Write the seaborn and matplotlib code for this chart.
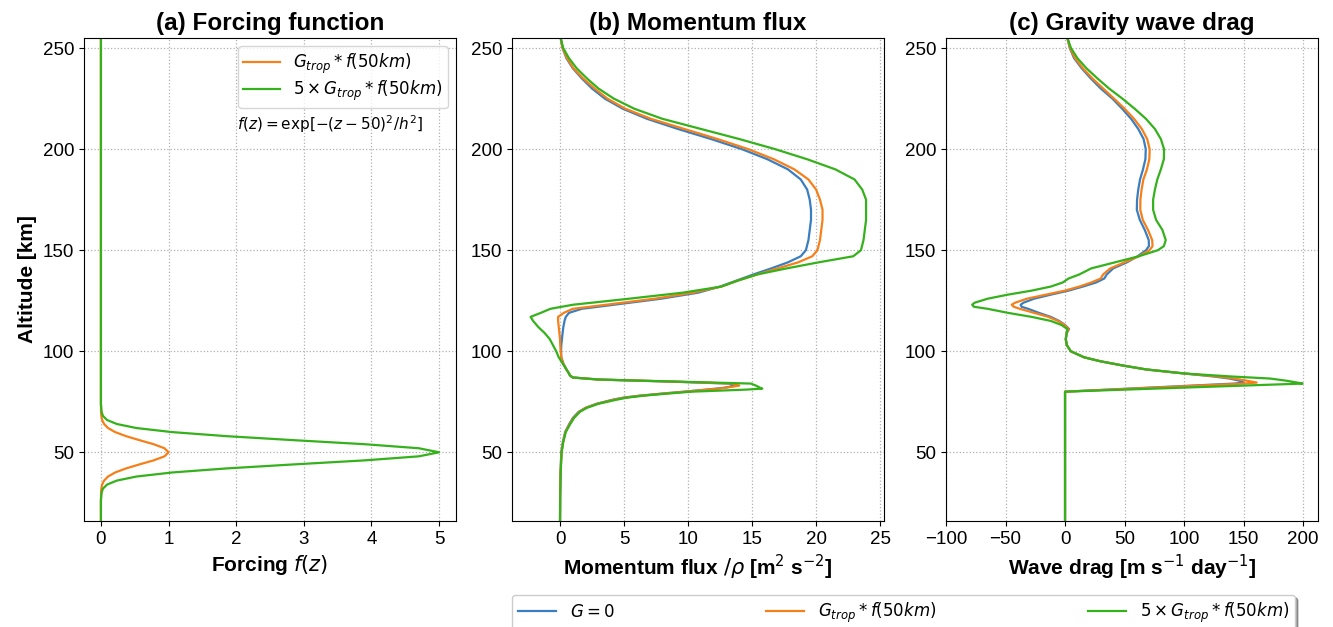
import matplotlib
matplotlib.use('Agg')
import matplotlib.pyplot as plt
import seaborn as sns

plt.rcParams['font.family'] = ['Liberation Sans', 'DejaVu Sans']
plt.rcParams['axes.unicode_minus'] = True

c_g0 = '#3a7ec0'
c_g1 = '#f5801a'
c_g5 = '#35b11c'

labels = [r'$G = 0$', r'$G_{trop} * f(50km)$', r'$5 \times G_{trop} * f(50km)$']

# (a) forcing profile
z_force = [16, 26, 30, 32, 34, 36, 38, 40, 42, 44, 46, 48, 50, 52, 54, 56, 58, 60,
           62, 64, 66, 68, 70, 74, 255]
force_g1 = [0, 0, 0.002, 0.006, 0.018, 0.047, 0.105, 0.21, 0.37, 0.57, 0.78, 0.94, 1.0,
            0.94, 0.78, 0.57, 0.37, 0.21, 0.105, 0.047, 0.018, 0.006, 0.002, 0, 0]
force_g5 = [0, 0, 0.01, 0.03, 0.09, 0.235, 0.525, 1.05, 1.85, 2.85, 3.9, 4.7, 5.0,
            4.7, 3.9, 2.85, 1.85, 1.05, 0.525, 0.235, 0.09, 0.03, 0.01, 0, 0]

# (b) momentum flux
z_flux = [255, 250, 245, 240, 235, 230, 225, 220, 215, 210, 205, 200, 195, 190, 185, 180,
          175, 170, 165, 160, 155, 150, 147, 144, 141, 138, 135, 132, 129, 126, 123, 121,
          119, 117, 115, 112, 109, 106, 103, 100, 97, 94, 91, 89, 88, 87, 86, 85, 84, 83,
          82, 81.5, 81, 80, 79, 78, 77, 76, 74, 72, 70, 67, 64, 60, 55, 50, 40, 30, 16]
flux_g0 = [0.05, 0.2, 0.5, 1.0, 1.7, 2.5, 3.5, 4.9, 6.8, 9.2, 11.8, 14.2, 16.2, 17.8, 18.8, 19.3,
           19.5, 19.6, 19.6, 19.5, 19.4, 19.2, 18.8, 17.8, 16.5, 15.1, 13.8, 12.5, 10.8, 7.9, 4.2, 1.7,
           0.7, 0.45, 0.35, 0.26, 0.2, 0.15, 0.1, 0.08, 0.1, 0.25, 0.5, 0.7, 0.78, 1.0, 3.0, 8.5, 13.2, 13.7,
           12.9, 12.2, 11.4, 9.7, 7.9, 6.2, 4.9, 4.1, 2.85, 2.0, 1.45, 1.0, 0.72, 0.4, 0.22, 0.1, 0.04, 0.01, 0]
flux_g1 = [0.05, 0.2, 0.55, 1.05, 1.8, 2.7, 3.7, 5.1, 7.1, 9.7, 12.3, 14.7, 16.7, 18.3, 19.4, 20.0,
           20.3, 20.5, 20.5, 20.4, 20.3, 20.1, 19.7, 18.6, 17.0, 15.4, 13.9, 12.6, 10.4, 7.4, 3.6, 1.0,
           0.3, -0.15, -0.15, -0.1, -0.05, 0.0, 0.02, 0.05, 0.1, 0.25, 0.5, 0.7, 0.78, 1.0, 3.0, 8.7, 13.5, 14.0,
           13.0, 12.4, 11.5, 9.8, 8.0, 6.3, 5.0, 4.2, 2.9, 2.0, 1.5, 1.05, 0.75, 0.42, 0.24, 0.11, 0.04, 0.01, 0]
flux_g5 = [0.05, 0.25, 0.7, 1.3, 2.1, 3.0, 4.2, 5.8, 8.0, 11.0, 14.0, 16.8, 19.3, 21.5, 23.0, 23.6,
           23.9, 23.9, 23.9, 23.8, 23.7, 23.5, 22.9, 20.2, 17.7, 15.4, 13.9, 12.6, 9.6, 5.4, 1.0, -0.75,
           -1.5, -2.3, -2.1, -1.7, -1.2, -0.8, -0.55, -0.3, -0.1, 0.2, 0.5, 0.7, 0.78, 1.0, 3.0, 9.0, 14.9, 15.3,
           15.6, 15.8, 14.5, 10.3, 8.3, 6.5, 5.2, 4.4, 3.0, 2.1, 1.55, 1.1, 0.8, 0.45, 0.25, 0.13, 0.05, 0.02, 0]

# (c) gravity wave drag
z_drag = [255, 250, 245, 240, 235, 230, 225, 220, 215, 210, 205, 200, 195, 190, 185, 180, 175,
          170, 165, 160, 155, 152, 150, 147, 144, 141, 138, 136, 134, 132, 130, 128, 126, 124,
          123, 122, 121, 119, 117, 115, 113, 111, 109, 106, 103, 100, 97, 95, 93, 91, 89, 87.5,
          86.5, 85.5, 84.5, 84, 80, 16]
drag_g0 = [2, 4, 7.6, 14, 21.6, 30, 39.8, 48, 55.5, 61.5, 66, 67.8, 67.5, 65.5, 63, 61.5, 60.5,
           60.3, 62.8, 67, 70.3, 70.5, 68, 61, 52, 40.5, 35, 33, 26, 15, 3, -12, -26, -35,
           -37.3, -36.5, -31, -22, -12, -5, 0, 3.4, 1.4, 0.6, 1.5, 4.8, 16, 30, 48, 68, 100, 125,
           138, 146, 150, 142, 0, 0]
drag_g1 = [2, 4.2, 8.4, 15, 23, 32, 41.2, 50, 58, 64.5, 69, 71.1, 70.8, 68.8, 65.8, 64.3, 63.3,
           63.2, 65.3, 69.7, 73.2, 73.5, 71, 62, 50, 38, 32, 30, 22, 12, 0, -16, -32, -42,
           -44.8, -43, -38, -26, -14, -6, -0.5, 3.0, 1.4, 0.6, 1.5, 4.8, 16, 30, 48, 68, 100, 128,
           142, 152, 161, 150, 0, 0]
drag_g5 = [2, 5, 10.4, 18, 27.2, 37, 48.2, 58.5, 68, 75.5, 80.5, 83.2, 83, 80.5, 77.5, 75.5, 74,
           74, 76.5, 81.8, 84.6, 83, 78, 62, 42, 22, 12, 3, -2, -12, -28, -48, -65, -76,
           -78, -76.5, -65, -48, -28, -12, -3, 2.0, 1.4, 0.6, 1.5, 4.8, 16, 30, 48, 68, 100, 140,
           172, 185, 195, 199.5, 0, 0]

fig = plt.figure(figsize=(13.33, 6.27), dpi=100)
bottom, height = 1 - 521 / 627, 483 / 627
ax1 = fig.add_axes([84 / 1333, bottom, 372 / 1333, height])
ax2 = fig.add_axes([512 / 1333, bottom, 372 / 1333, height])
ax3 = fig.add_axes([946 / 1333, bottom, 372 / 1333, height])

sns.lineplot(x=force_g1, y=z_force, sort=False, estimator=None, color=c_g1, lw=1.6,
             label=labels[1], legend=False, ax=ax1)
sns.lineplot(x=force_g5, y=z_force, sort=False, estimator=None, color=c_g5, lw=1.6,
             label=labels[2], legend=False, ax=ax1)

for vals, col, lab in zip([flux_g0, flux_g1, flux_g5], [c_g0, c_g1, c_g5], labels):
    sns.lineplot(x=vals, y=z_flux, sort=False, estimator=None, color=col, lw=1.6,
                 label=lab, legend=False, ax=ax2)

for vals, col, lab in zip([drag_g0, drag_g1, drag_g5], [c_g0, c_g1, c_g5], labels):
    sns.lineplot(x=vals, y=z_drag, sort=False, estimator=None, color=col, lw=1.6,
                 label=lab, legend=False, ax=ax3)

titles = ['(a) Forcing function', '(b) Momentum flux', '(c) Gravity wave drag']
xlabels = [r'Forcing $f(z)$', r'Momentum flux $/\rho$ [m$^{2}$ s$^{-2}$]',
           r'Wave drag [m s$^{-1}$ day$^{-1}$]']
for ax, t, xl in zip([ax1, ax2, ax3], titles, xlabels):
    ax.set_ylim(16, 255)
    ax.set_yticks([50, 100, 150, 200, 250])
    ax.grid(True, linestyle=':', color='#b0b0b0', lw=0.9)
    ax.set_title(t, fontsize=17.5, fontweight='bold')
    ax.set_xlabel(xl, fontsize=15, fontweight='bold')
    ax.set_ylabel('')
    ax.tick_params(labelsize=13.5)

ax1.set_xlim(-0.25, 5.25)
ax2.set_xlim(-3.75, 25.3)
ax3.set_xlim(-100, 212.5)
ax3.set_xticks([-100, -50, 0, 50, 100, 150, 200])
ax1.set_ylabel('Altitude [km]', fontsize=15, fontweight='bold')

ax1.legend(loc='upper right', fontsize=12, handlelength=2.2, labelspacing=0.2,
           borderpad=0.3)
ax1.text(0.411, 0.822, r'$f(z) = \exp[-(z-50)^2/h^2]$', transform=ax1.transAxes,
         fontsize=11, va='center')

handles, labs = ax2.get_legend_handles_labels()
fig.legend(handles, labs, loc='upper left', ncol=3, mode='expand', shadow=True,
           bbox_to_anchor=(512 / 1333, 1 - 595 / 627, 783 / 1333, 0),
           borderaxespad=0, fontsize=12, handlelength=2.3, borderpad=0.35)

fig.savefig('out.png', dpi=100)
